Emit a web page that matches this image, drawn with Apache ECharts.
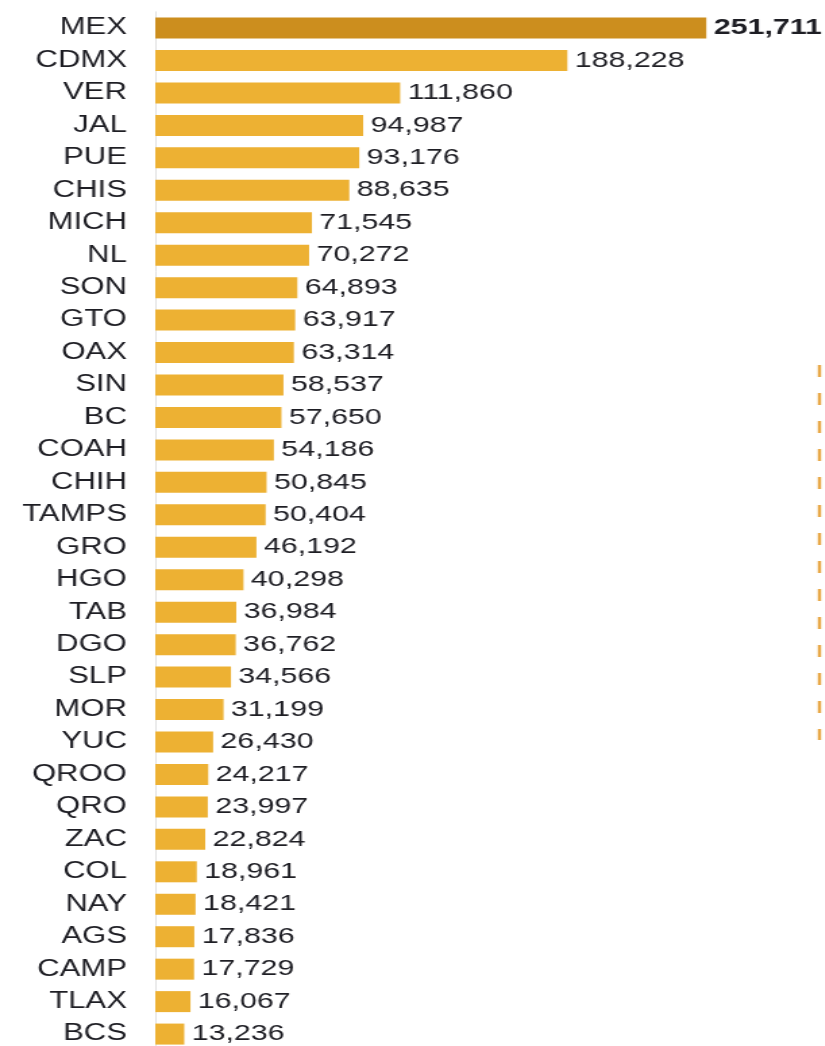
<!DOCTYPE html>
<html>
<head>
<meta charset="utf-8">
<script src="https://cdn.jsdelivr.net/npm/echarts@6/dist/echarts.min.js"></script>
<style>
html,body{margin:0;padding:0;background:#fff;overflow:hidden;width:825px;height:1046px;}
#main{width:611px;height:1060px;transform:scaleX(1.35);transform-origin:0 0;}
</style>
</head>
<body>
<div id="main"></div>
<script>
const categories = ["MEX","CDMX","VER","JAL","PUE","CHIS","MICH","NL","SON","GTO","OAX","SIN","BC","COAH","CHIH","TAMPS","GRO","HGO","TAB","DGO","SLP","MOR","YUC","QROO","QRO","ZAC","COL","NAY","AGS","CAMP","TLAX","BCS"];
const values = [251711,188228,111860,94987,93176,88635,71545,70272,64893,63917,63314,58537,57650,54186,50845,50404,46192,40298,36984,36762,34566,31199,26430,24217,23997,22824,18961,18421,17836,17729,16067,13236];
const highlight = "MEX";

const chart = echarts.init(document.getElementById('main'), null, {renderer:'canvas'});
const fmt = v => v.toLocaleString('en-US');
chart.setOption({
  animation:false,
  backgroundColor:'#fff',
  grid:{left:115, width:486.5, top:11.8, height:1038.5},
  xAxis:{type:'value', min:0, max:300000, show:false},
  yAxis:{type:'category', data:categories, inverse:true,
    axisLine:{show:true, lineStyle:{color:'#e2e2e2', width:1}},
    axisTick:{show:false},
    axisLabel:{fontFamily:'Liberation Sans, Arial, sans-serif', fontSize:23, color:'#1e1e24', margin:21}
  },
  series:[{
    type:'bar', barWidth:21,
    data: values.map((v,i)=>({value:v,
      itemStyle:{color: categories[i]===highlight ? '#CC8E1E' : '#EDB133'},
      label:{fontWeight: categories[i]===highlight ? 'bold':'normal'}})),
    label:{show:true, position:'right', distance:5.5, fontFamily:'Liberation Sans, Arial, sans-serif', fontSize:22.5, color:'#1e1e24',
      formatter: p => fmt(p.value)}
  }],
  graphic:[{type:'line', shape:{x1:607,y1:365,x2:607,y2:740}, style:{stroke:'#E8A847', lineWidth:2.5, lineDash:[12,16]}}]
});
</script>
</body>
</html>
